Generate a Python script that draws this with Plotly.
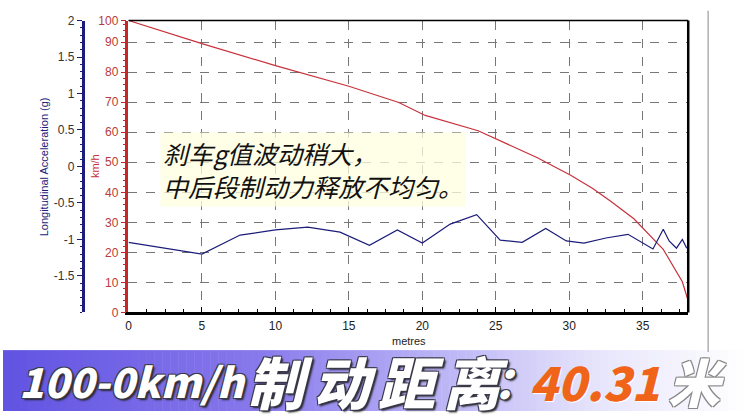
import plotly.graph_objects as go

# ---- data ----
speed_dist = [0, 5.0, 10.0, 15.0, 18.4, 20.2, 23.8, 27.8, 30.1, 31.6, 32.8, 34.4, 36.4, 37.7, 38.1]
speed_kmh = [97.2, 89.5, 82.2, 75.3, 69.9, 65.6, 60.5, 51.6, 45.7, 41.3, 37.1, 31.2, 21.0, 10.2, 3.8]

acc_dist = [0, 5.0, 7.6, 10.0, 12.2, 14.4, 16.4, 18.3, 20.0, 21.9, 23.7, 25.3, 26.8, 28.4,
            29.8, 31.0, 32.5, 34.0, 35.7, 36.4, 36.8, 37.3, 37.7, 38.0]
acc_g = [-1.04, -1.20, -0.94, -0.87, -0.83, -0.90, -1.08, -0.87, -1.05, -0.79, -0.66, -1.01,
         -1.04, -0.85, -1.02, -1.05, -0.98, -0.93, -1.13, -0.86, -1.02, -1.12, -1.00, -1.12]

x_ticks = [0, 5, 10, 15, 20, 25, 30, 35]
kmh_tickvals = [0, 10, 20, 30, 40, 50, 60, 70, 80, 90, 97.2]
kmh_ticktext = ["0", "10", "20", "30", "40", "50", "60", "70", "80", "90", "100"]
acc_tickvals = [-1.5, -1, -0.5, 0, 0.5, 1, 1.5, 2]
acc_ticktext = ["-1.5", "-1", "-0.5", "0", "0.5", "1", "1.5", "2"]

W, H = 744, 418
def px(x): return x / W
def py(y): return 1 - y / H

RED = "#c8323c"
NAVY = "#1c1c7a"
TICKRED = "#b83a3a"
FONT = "Liberation Sans, Arial, sans-serif"
CJK = "Noto Sans CJK SC"

fig = go.Figure()
fig.add_trace(go.Scatter(x=speed_dist, y=speed_kmh, mode="lines",
                         line=dict(color=RED, width=1.2), yaxis="y", hoverinfo="skip"))
fig.add_trace(go.Scatter(x=acc_dist, y=acc_g, mode="lines",
                         line=dict(color=NAVY, width=1.2), yaxis="y2", hoverinfo="skip"))

shapes = []
# gradient banner
n = 93
stops = [(0, (98, 84, 226)), (250, (135, 120, 236)), (450, (190, 184, 246)),
         (600, (232, 230, 252)), (744, (255, 255, 255))]
def col_at(x):
    for (xa, ca), (xb, cb) in zip(stops[:-1], stops[1:]):
        if xa <= x <= xb:
            t = (x - xa) / (xb - xa)
            return tuple(int(ca[i] + (cb[i] - ca[i]) * t) for i in range(3))
    return stops[-1][1]
step = W / n
for i in range(n):
    x0 = i * step
    c = col_at(x0 + step / 2)
    shapes.append(dict(type="rect", xref="paper", yref="paper", x0=px(x0), x1=px(x0 + step + 0.5),
                       y0=0, y1=py(355), line=dict(width=0), fillcolor="rgb(%d,%d,%d)" % c, layer="below"))
# plot borders
shapes.append(dict(type="line", xref="paper", yref="paper", x0=px(126), x1=px(688), y0=py(14), y1=py(14),
                   line=dict(color="black", width=1.5)))
shapes.append(dict(type="line", xref="paper", yref="paper", x0=px(688), x1=px(688), y0=py(14), y1=py(316),
                   line=dict(color="black", width=2.5)))
# frame line at right
shapes.append(dict(type="line", xref="paper", yref="paper", x0=px(708), x1=px(708), y0=py(4), y1=py(357),
                   line=dict(color="#b0b0b0", width=1.5)))

annotations = [
    dict(text="Longitudinal Acceleration (g)", x=px(42), y=py(165), xref="paper", yref="paper",
         xanchor="center", yanchor="middle",
         textangle=-90, showarrow=False, font=dict(family=FONT, size=11, color=NAVY)),
    dict(text="km/h", x=px(93), y=py(165), xref="paper", yref="paper",
         xanchor="center", yanchor="middle",
         textangle=-90, showarrow=False, font=dict(family=FONT, size=11, color=RED)),
    dict(text="metres", x=px(408), y=py(346), xref="paper", yref="paper",
         xanchor="center", yanchor="middle",
         showarrow=False, font=dict(family=FONT, size=11, color="#222")),
    dict(text="<i>刹车g值波动稍大，<br>中后段制动力释放不均匀。</i>", x=px(158), y=py(168),
         xref="paper", yref="paper", xanchor="left", yanchor="middle", align="left",
         showarrow=False, bgcolor="rgba(255,253,222,0.75)", borderpad=2,
         font=dict(family=CJK, size=25, color="#111")),
]
white_sh = "-1px -1px 0 #3a3a4a, 1px -1px 0 #3a3a4a, -1px 1px 0 #3a3a4a, 1px 1px 0 #3a3a4a, 2px 2px 2px #222"
banner_y = 386
# (text, centre x, size, colour, shadow)
pieces = [
    ("<i>100-0km/h</i>", 131, 41, "white", white_sh),
    ("<i>制</i>", 278, 57, "white", white_sh),
    ("<i>动</i>", 343, 57, "white", white_sh),
    ("<i>距</i>", 410, 57, "white", white_sh),
    ("<i>离</i>", 475, 57, "white", white_sh),
    ("<i>：</i>", 514, 44, "white", white_sh),
    ("<i>40.31</i>", 594, 47, "#f0641a", "1px 1px 1px #fff"),
    ("<i>米</i>", 697, 52, "white", "-1px -1px 0 #888, 1px -1px 0 #888, -1px 1px 0 #888, 1px 1px 0 #888"),
]
for t, x, s, c, sh in pieces:
    annotations.append(dict(text=t, x=px(x), y=py(banner_y), xref="paper", yref="paper", xanchor="center",
                            yanchor="middle", showarrow=False,
                            font=dict(family=CJK, size=s, color=c, weight=900, shadow=sh)))

fig.update_layout(
    width=W, height=H, margin=dict(l=0, r=0, t=0, b=0),
    paper_bgcolor="white", plot_bgcolor="white", showlegend=False,
    xaxis=dict(domain=[px(126), px(688)], range=[0, 38.1], tickvals=x_ticks,
               showgrid=True, gridcolor="#777", griddash="dash", gridwidth=1,
               showline=True, linecolor="black", linewidth=3, ticks="inside", ticklen=5,
               tickcolor="black", zeroline=False,
               minor=dict(tickmode="linear", tick0=0, dtick=1.25, ticks="inside", ticklen=3, tickcolor="black"),
               tickfont=dict(family=FONT, size=12, color="#222"), anchor="y"),
    yaxis=dict(domain=[py(316), py(14)], range=[0, 97.2], tickvals=kmh_tickvals, ticktext=kmh_ticktext,
               showgrid=True, gridcolor="#777", griddash="dash", gridwidth=1,
               showline=True, linecolor="#c42828", linewidth=2.5, ticks="outside", ticklen=5,
               tickcolor="#c42828", zeroline=False,
               minor=dict(tickmode="linear", tick0=0, dtick=2, ticks="outside", ticklen=3, tickcolor="#c42828"),
               tickfont=dict(family=FONT, size=12, color=TICKRED), anchor="x"),
    yaxis2=dict(overlaying="y", anchor="free", position=px(80), side="left",
                range=[-2, 2], tickvals=acc_tickvals, ticktext=acc_ticktext, showgrid=False,
                showline=True, linecolor=NAVY, linewidth=2.5, ticks="outside", ticklen=5,
                tickcolor=NAVY, zeroline=False,
                minor=dict(tickmode="linear", tick0=0, dtick=0.1, ticks="outside", ticklen=2, tickcolor=NAVY),
                tickfont=dict(family=FONT, size=12, color="#333")),
    shapes=shapes, annotations=annotations,
)
fig.write_html("out.html", config={"displayModeBar": False},
               post_script="document.body.style.margin='0';")
